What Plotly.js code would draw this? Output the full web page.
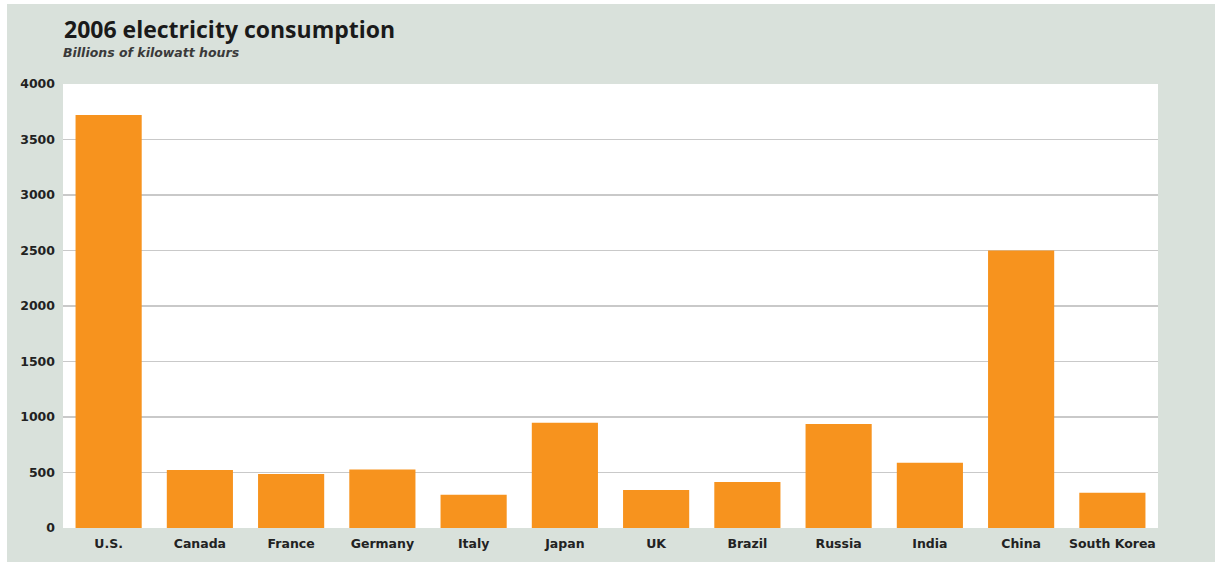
<!DOCTYPE html>
<html>
<head>
<meta charset="utf-8">
<script src="https://cdn.plot.ly/plotly-3.0.1.min.js"></script>
<style>
  html, body { margin: 0; padding: 0; background: #ffffff; }
  #chart { position: absolute; left: 7px; top: 4px; width: 1208px; height: 558px; }
</style>
</head>
<body>
<div id="chart"></div>
<script>
const countries = ["U.S.", "Canada", "France", "Germany", "Italy", "Japan", "UK", "Brazil", "Russia", "India", "China", "South Korea"];
const consumption = [3720, 522, 486, 528, 300, 949, 342, 414, 937, 588, 2500, 318];
const yTicks = [0, 500, 1000, 1500, 2000, 2500, 3000, 3500, 4000];

const titleText = "2006 electricity consumption";
const subtitleText = "Billions of kilowatt hours";

const trace = {
  type: "bar",
  x: countries,
  y: consumption,
  marker: { color: "#f7931e", line: { width: 0 } },
  hoverinfo: "x+y"
};

const layout = {
  width: 1208,
  height: 558,
  margin: { l: 56, r: 57, t: 80, b: 34 },
  paper_bgcolor: "#d9e1db",
  plot_bgcolor: "#ffffff",
  bargap: 0.275,
  showlegend: false,
  title: {
    text: titleText,
    font: { family: "Open Sans, sans-serif", size: 23, color: "#1a1a1a", weight: 700 },
    xref: "container", x: 57 / 1208, xanchor: "left",
    yref: "container", y: 1 - 26 / 558, yanchor: "middle"
  },
  annotations: [{
    text: "<b><i>" + subtitleText + "</i></b>",
    xref: "paper", yref: "paper",
    x: -0.002, xanchor: "left",
    y: 1 + 31 / 444, yanchor: "middle",
    showarrow: false,
    font: { family: "DejaVu Sans, sans-serif", size: 12.5, color: "#3a3a3a" }
  }],
  xaxis: {
    type: "category",
    tickfont: { family: "DejaVu Sans, sans-serif", size: 12.5, color: "#222222", weight: 700 },
    showgrid: false,
    zeroline: false,
    showline: false,
    ticks: "",
    ticklabelstandoff: 6
  },
  yaxis: {
    range: [0, 4000],
    tickvals: yTicks,
    ticktext: yTicks.map(String),
    tickfont: { family: "DejaVu Sans, sans-serif", size: 12.5, color: "#222222", weight: 700 },
    showgrid: true,
    gridcolor: "#c9c9c9",
    gridwidth: 1.5,
    zeroline: false,
    showline: false,
    ticks: "",
    ticklabelstandoff: 7
  }
};

Plotly.newPlot("chart", [trace], layout, { displayModeBar: false, staticPlot: true });
</script>
</body>
</html>
